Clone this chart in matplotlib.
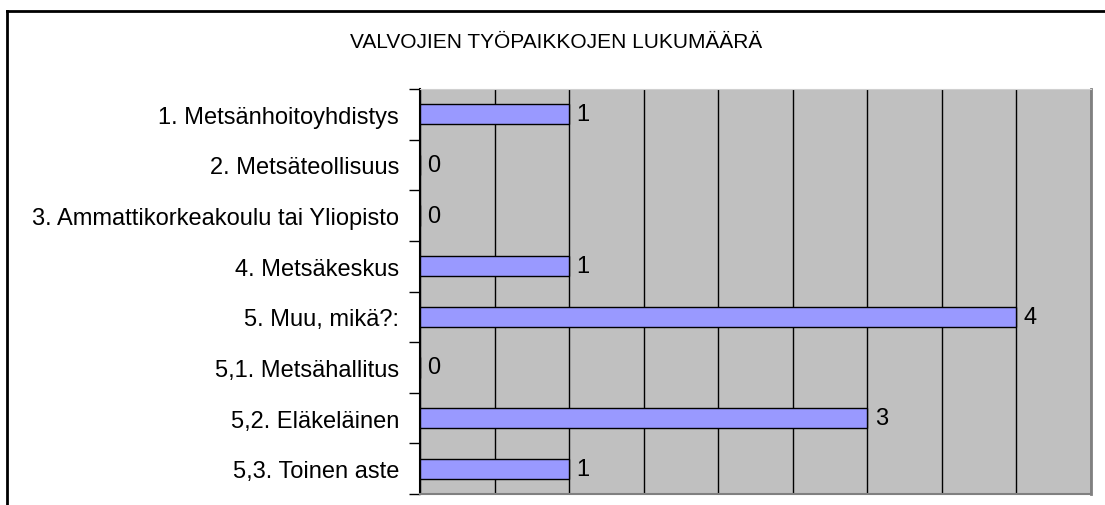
import matplotlib.pyplot as plt
from matplotlib.lines import Line2D

plt.rcParams['font.family'] = ['Liberation Sans', 'DejaVu Sans']

categories = ['1. Metsänhoitoyhdistys', '2. Metsäteollisuus',
              '3. Ammattikorkeakoulu tai Yliopisto', '4. Metsäkeskus',
              '5. Muu, mikä?:', '5,1. Metsähallitus', '5,2. Eläkeläinen',
              '5,3. Toinen aste']
counts = [1, 0, 0, 1, 4, 0, 3, 1]
title = 'VALVOJIEN TYÖPAIKKOJEN LUKUMÄÄRÄ'

fig = plt.figure(figsize=(11.05, 5.06), dpi=100)
ax = fig.add_axes([420 / 1105, 1 - 495 / 506, 671 / 1105, 405 / 506])
ax.set_facecolor('#c0c0c0')

pos = list(range(len(categories)))
ax.barh(pos, counts, height=0.4, color='#9999ff', edgecolor='black', linewidth=1, zorder=3)
for p, c in zip(pos, counts):
    ax.text(c + 0.05, p, str(c), va='center', ha='left', fontsize=17, zorder=4)

ax.set_xlim(0, 4.5)
ax.set_ylim(len(categories) - 0.5, -0.5)
ax.set_xticks([i * 0.5 for i in range(10)])
ax.xaxis.grid(True, color='black', linewidth=1, zorder=1)
ax.set_axisbelow(True)
ax.tick_params(axis='x', length=0, labelbottom=False)

ax.set_yticks([i - 0.5 for i in range(len(categories) + 1)])
ax.set_yticklabels([])
ax.tick_params(axis='y', which='major', length=8, width=1, color='black')
ax.set_yticks(pos, minor=True)
ax.set_yticklabels(categories, minor=True, fontsize=17)
ax.tick_params(axis='y', which='minor', length=0, pad=15)

ax.spines['top'].set_color('#d0d0d0')
ax.spines['right'].set_color('#808080')
ax.spines['right'].set_linewidth(2)
ax.spines['bottom'].set_color('#808080')
ax.spines['bottom'].set_linewidth(1.5)
ax.spines['left'].set_color('black')
ax.spines['left'].set_linewidth(1.5)

fig.text(556 / 1105, 1 - 43 / 506, title, ha='center', va='center', fontsize=15)

# cropped outer border
fig.add_artist(Line2D([7 / 1105, 1], [1 - 12 / 506, 1 - 12 / 506], color='black', linewidth=2))
fig.add_artist(Line2D([7 / 1105, 7 / 1105], [0, 1 - 12 / 506], color='black', linewidth=2))

fig.savefig('out.png', dpi=100)
